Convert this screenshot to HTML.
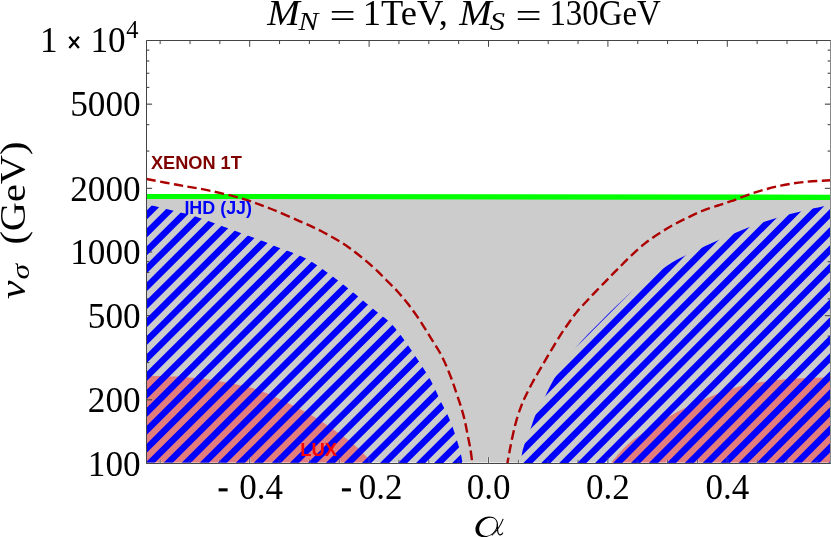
<!DOCTYPE html>
<html><head><meta charset="utf-8"><title>plot</title>
<style>
html,body{margin:0;padding:0;background:#fff;}
body{width:831px;height:537px;overflow:hidden;font-family:"Liberation Serif",serif;}
svg{display:block;will-change:transform;}
</style></head><body>
<svg width="831" height="537" viewBox="0 0 831 537">
<rect x="0" y="0" width="831" height="537" fill="#ffffff"/>
<path d="M146.5 196 L831 197 L831 462.6 L146.5 462.6 Z" fill="#cccccc"/>
<path d="M146.50 376.40 C148.08 376.32 151.25 375.87 156.00 375.90 C160.75 375.93 169.00 376.30 175.00 376.60 C181.00 376.90 186.50 377.23 192.00 377.70 C197.50 378.17 202.67 378.68 208.00 379.40 C213.33 380.12 218.67 381.03 224.00 382.00 C229.33 382.97 235.17 384.15 240.00 385.20 C244.83 386.25 249.33 387.25 253.00 388.30 C256.67 389.35 259.00 390.35 262.00 391.50 C265.00 392.65 267.03 393.43 271.00 395.20 C274.97 396.97 280.85 399.70 285.80 402.10 C290.75 404.50 295.73 406.98 300.70 409.60 C305.67 412.22 310.65 414.83 315.60 417.80 C320.55 420.77 325.45 424.07 330.40 427.40 C335.35 430.73 340.83 434.45 345.30 437.80 C349.77 441.15 353.47 444.13 357.20 447.50 C360.93 450.87 365.33 455.48 367.70 458.00 C370.07 460.52 370.78 461.83 371.40 462.60 L146.5 462.6 Z" fill="#e37c7c"/>
<path d="M611.20 462.60 C614.08 459.47 622.23 449.35 628.50 443.80 C634.77 438.25 641.57 434.12 648.80 429.30 C656.03 424.48 664.68 418.98 671.90 414.90 C679.12 410.82 684.88 408.17 692.10 404.80 C699.32 401.43 707.02 397.83 715.20 394.70 C723.38 391.57 733.02 388.17 741.20 386.00 C749.38 383.83 755.63 382.90 764.30 381.70 C772.97 380.50 782.17 379.55 793.20 378.80 C804.23 378.05 824.28 377.47 830.50 377.20 L831 377.2 L831 462.6 Z" fill="#e37c7c"/>
<g stroke="#454545" stroke-width="1" fill="none" opacity="1">
<path d="M160.15 463.5 v-3.6 M190.00 463.5 v-3.6 M219.85 463.5 v-3.6 M249.70 463.5 v-6.3 M279.55 463.5 v-3.6 M309.40 463.5 v-3.6 M339.25 463.5 v-3.6 M369.10 463.5 v-6.3 M398.95 463.5 v-3.6 M428.80 463.5 v-3.6 M458.65 463.5 v-3.6 M488.50 463.5 v-6.3 M518.35 463.5 v-3.6 M548.20 463.5 v-3.6 M578.05 463.5 v-3.6 M607.90 463.5 v-6.3 M637.75 463.5 v-3.6 M667.60 463.5 v-3.6 M697.45 463.5 v-3.6 M727.30 463.5 v-6.3 M757.15 463.5 v-3.6 M787.00 463.5 v-3.6 M816.85 463.5 v-3.6" stroke="#ffffff" stroke-opacity="0.35" stroke-width="2.6"/>
<path d="M160.15 463.5 v-3.6 M190.00 463.5 v-3.6 M219.85 463.5 v-3.6 M249.70 463.5 v-6.3 M279.55 463.5 v-3.6 M309.40 463.5 v-3.6 M339.25 463.5 v-3.6 M369.10 463.5 v-6.3 M398.95 463.5 v-3.6 M428.80 463.5 v-3.6 M458.65 463.5 v-3.6 M488.50 463.5 v-6.3 M518.35 463.5 v-3.6 M548.20 463.5 v-3.6 M578.05 463.5 v-3.6 M607.90 463.5 v-6.3 M637.75 463.5 v-3.6 M667.60 463.5 v-3.6 M697.45 463.5 v-3.6 M727.30 463.5 v-6.3 M757.15 463.5 v-3.6 M787.00 463.5 v-3.6 M816.85 463.5 v-3.6" stroke="#5a5a5a"/>
<path d="M146.5 463.50 h5.6 M146.5 399.83 h5.6 M146.5 362.59 h2.8 M146.5 336.16 h2.8 M146.5 315.67 h5.6 M146.5 298.92 h2.8 M146.5 284.76 h2.8 M146.5 272.50 h2.8 M146.5 261.68 h2.8 M146.5 252.00 h5.6 M146.5 188.33 h5.6 M146.5 151.09 h2.8 M146.5 124.66 h2.8 M146.5 104.17 h5.6 M146.5 87.42 h2.8 M146.5 73.26 h2.8 M146.5 61.00 h2.8 M146.5 50.18 h2.8 M146.5 40.50 h5.6"/>
<path d="M830.5 463.50 h-5.6 M830.5 399.83 h-5.6 M830.5 362.59 h-2.8 M830.5 336.16 h-2.8 M830.5 315.67 h-5.6 M830.5 298.92 h-2.8 M830.5 284.76 h-2.8 M830.5 272.50 h-2.8 M830.5 261.68 h-2.8 M830.5 252.00 h-5.6 M830.5 188.33 h-5.6 M830.5 151.09 h-2.8 M830.5 124.66 h-2.8 M830.5 104.17 h-5.6 M830.5 87.42 h-2.8 M830.5 73.26 h-2.8 M830.5 61.00 h-2.8 M830.5 50.18 h-2.8 M830.5 40.50 h-5.6"/>
</g>
<defs><clipPath id="cbL"><path d="M146.50 205.40 C147.55 205.47 148.97 205.08 152.80 205.80 C156.63 206.52 164.12 208.40 169.50 209.70 C174.88 211.00 180.53 212.40 185.10 213.60 C189.67 214.80 192.33 215.43 196.90 216.90 C201.47 218.37 207.28 220.50 212.50 222.40 C217.72 224.30 221.67 225.85 228.20 228.30 C234.73 230.75 245.50 234.82 251.70 237.10 C257.90 239.38 260.83 240.22 265.40 242.00 C269.97 243.78 274.53 246.02 279.10 247.80 C283.67 249.58 288.32 250.90 292.80 252.70 C297.28 254.50 300.77 255.68 306.00 258.60 C311.23 261.52 317.13 265.23 324.20 270.20 C331.27 275.17 339.93 281.73 348.40 288.40 C356.87 295.07 368.70 305.08 375.00 310.20 C381.30 315.32 382.85 316.13 386.20 319.10 C389.55 322.07 392.32 324.83 395.10 328.00 C397.88 331.17 400.28 334.55 402.90 338.10 C405.52 341.65 408.37 345.77 410.80 349.30 C413.23 352.83 415.27 355.95 417.50 359.30 C419.73 362.65 421.97 365.85 424.20 369.40 C426.43 372.95 429.02 377.17 430.90 380.60 C432.78 384.03 433.73 386.32 435.50 390.00 C437.27 393.68 439.50 398.60 441.50 402.70 C443.50 406.80 445.63 410.52 447.50 414.60 C449.37 418.68 451.10 422.85 452.70 427.20 C454.30 431.55 455.73 436.22 457.10 440.70 C458.47 445.18 460.02 450.38 460.90 454.10 C461.78 457.82 462.15 461.52 462.40 463.00 L146.5 462.6 Z"/></clipPath><clipPath id="cbR"><path d="M522.60 463.00 C522.47 461.63 521.43 458.03 521.80 454.80 C522.17 451.57 523.30 448.07 524.80 443.60 C526.30 439.13 528.93 432.97 530.80 428.00 C532.67 423.03 533.52 419.27 536.00 413.80 C538.48 408.33 542.37 401.53 545.70 395.20 C549.03 388.87 550.93 383.75 556.00 375.80 C561.07 367.85 568.40 356.80 576.10 347.50 C583.80 338.20 592.68 329.50 602.20 320.00 C611.72 310.50 622.95 299.17 633.20 290.50 C643.45 281.83 655.60 273.55 663.70 268.00 C671.80 262.45 672.72 261.83 681.80 257.20 C690.88 252.57 706.90 245.25 718.20 240.20 C729.50 235.15 739.92 230.62 749.60 226.90 C759.28 223.18 767.62 220.52 776.30 217.90 C784.98 215.28 793.43 213.22 801.70 211.20 C809.97 209.18 821.10 206.83 825.90 205.80 C830.70 204.77 829.73 205.13 830.50 205.00 L831 205 L831 462.6 Z"/></clipPath></defs>
<path d="M-127.87 470 L153.81 190 M-109.82 470 L171.86 190 M-91.77 470 L189.91 190 M-73.72 470 L207.96 190 M-55.67 470 L226.01 190 M-37.62 470 L244.06 190 M-19.57 470 L262.11 190 M-1.52 470 L280.16 190 M16.53 470 L298.21 190 M34.58 470 L316.26 190 M52.63 470 L334.31 190 M70.68 470 L352.36 190 M88.73 470 L370.41 190 M106.78 470 L388.46 190 M124.83 470 L406.51 190 M142.88 470 L424.56 190 M160.93 470 L442.61 190 M178.98 470 L460.66 190 M197.03 470 L478.71 190 M215.08 470 L496.76 190 M233.13 470 L514.81 190 M251.18 470 L532.86 190 M269.23 470 L550.91 190 M287.28 470 L568.96 190 M305.33 470 L587.01 190 M323.38 470 L605.06 190 M341.43 470 L623.11 190 M359.48 470 L641.16 190 M377.53 470 L659.21 190 M395.58 470 L677.26 190 M413.63 470 L695.31 190 M431.68 470 L713.36 190 M449.73 470 L731.41 190 M467.78 470 L749.46 190" stroke="#0000ff" stroke-width="6.486" fill="none" clip-path="url(#cbL)"/>
<path d="M216.17 470 L495.05 190 M234.10 470 L512.98 190 M252.03 470 L530.91 190 M269.96 470 L548.84 190 M287.89 470 L566.77 190 M305.82 470 L584.70 190 M323.75 470 L602.63 190 M341.68 470 L620.56 190 M359.61 470 L638.49 190 M377.54 470 L656.42 190 M395.47 470 L674.35 190 M413.40 470 L692.28 190 M431.33 470 L710.21 190 M449.26 470 L728.14 190 M467.19 470 L746.07 190 M485.12 470 L764.00 190 M503.05 470 L781.93 190 M520.98 470 L799.86 190 M538.91 470 L817.79 190 M556.84 470 L835.72 190 M574.77 470 L853.65 190 M592.70 470 L871.58 190 M610.63 470 L889.51 190 M628.56 470 L907.44 190 M646.49 470 L925.37 190 M664.42 470 L943.30 190 M682.35 470 L961.23 190 M700.28 470 L979.16 190 M718.21 470 L997.09 190 M736.14 470 L1015.02 190 M754.07 470 L1032.95 190 M772.00 470 L1050.88 190 M789.93 470 L1068.81 190 M807.86 470 L1086.74 190 M825.79 470 L1104.67 190" stroke="#0000ff" stroke-width="6.518" fill="none" clip-path="url(#cbR)"/>
<path d="M146.5 193.9 L831 194.7 L831 200.0 L146.5 198.9 Z" fill="#00ff00"/>
<defs><clipPath id="cf"><rect x="146.5" y="40.5" width="684.5" height="423.5"/></clipPath></defs>
<g clip-path="url(#cf)" fill="none" stroke="#ad0000" stroke-width="2.4" stroke-dasharray="9.5 4.4">
<path d="M146.50 179.00 C151.62 179.97 166.88 182.90 177.20 184.80 C187.52 186.70 197.58 188.10 208.40 190.40 C219.22 192.70 231.83 195.58 242.10 198.60 C252.37 201.62 260.35 204.72 270.00 208.50 C279.65 212.28 290.97 217.27 300.00 221.30 C309.03 225.33 316.13 228.38 324.20 232.70 C332.27 237.02 340.33 241.55 348.40 247.20 C356.47 252.85 366.30 261.13 372.60 266.60 C378.90 272.07 382.08 275.90 386.20 280.00 C390.32 284.10 393.58 287.10 397.30 291.20 C401.02 295.30 404.77 299.77 408.50 304.60 C412.23 309.43 415.97 314.62 419.70 320.20 C423.43 325.78 427.18 332.05 430.90 338.10 C434.62 344.15 438.65 349.93 442.00 356.50 C445.35 363.07 448.60 371.42 451.00 377.50 C453.40 383.58 454.75 388.18 456.40 393.00 C458.05 397.82 459.53 401.93 460.90 406.40 C462.27 410.87 463.48 415.08 464.60 419.80 C465.72 424.52 466.62 429.73 467.60 434.70 C468.58 439.67 469.72 444.88 470.50 449.60 C471.28 454.32 471.98 460.60 472.30 463.00 C472.62 465.40 472.38 463.83 472.40 464.00"/>
<path d="M507.40 464.00 C507.45 463.58 507.28 463.90 507.70 461.50 C508.12 459.10 509.03 454.07 509.90 449.60 C510.77 445.13 511.78 439.67 512.90 434.70 C514.02 429.73 515.23 424.52 516.60 419.80 C517.97 415.08 519.60 410.37 521.10 406.40 C522.60 402.43 523.75 399.90 525.60 396.00 C527.45 392.10 529.85 387.35 532.20 383.00 C534.55 378.65 537.22 374.20 539.70 369.90 C542.18 365.60 544.62 361.42 547.10 357.20 C549.58 352.98 552.12 348.68 554.60 344.60 C557.08 340.52 559.53 336.47 562.00 332.70 C564.47 328.93 566.87 325.53 569.40 322.00 C571.93 318.47 574.33 314.97 577.20 311.50 C580.07 308.03 583.48 304.57 586.60 301.20 C589.72 297.83 592.80 294.53 595.90 291.30 C599.00 288.07 602.60 284.47 605.20 281.80 C607.80 279.13 609.38 277.45 611.50 275.30 C613.62 273.15 614.85 271.95 617.90 268.90 C620.95 265.85 625.33 261.22 629.80 257.00 C634.27 252.78 639.73 247.57 644.70 243.60 C649.67 239.63 654.65 236.42 659.60 233.20 C664.55 229.98 669.45 227.03 674.40 224.30 C679.35 221.57 684.33 219.17 689.30 216.80 C694.27 214.43 699.08 212.08 704.20 210.10 C709.32 208.12 715.53 206.38 720.00 204.90 C724.47 203.42 725.00 203.32 731.00 201.20 C737.00 199.08 747.68 194.80 756.00 192.20 C764.32 189.60 772.58 187.33 780.90 185.60 C789.22 183.87 797.55 182.68 805.90 181.80 C814.25 180.92 826.82 180.55 831.00 180.30" stroke-dashoffset="3"/>
</g>
<g stroke="#454545" stroke-width="1" fill="none">
<path d="M146.5 463.5 L146.5 40.5 L831 40.5 M831 463.5 L146.5 463.5"/>
<path d="M830.5 40.5 L830.5 463.5" stroke="#8a8a8a"/>
<path d="M160.15 40.5 v3.6 M190.00 40.5 v3.6 M219.85 40.5 v3.6 M249.70 40.5 v6.3 M279.55 40.5 v3.6 M309.40 40.5 v3.6 M339.25 40.5 v3.6 M369.10 40.5 v6.3 M398.95 40.5 v3.6 M428.80 40.5 v3.6 M458.65 40.5 v3.6 M488.50 40.5 v6.3 M518.35 40.5 v3.6 M548.20 40.5 v3.6 M578.05 40.5 v3.6 M607.90 40.5 v6.3 M637.75 40.5 v3.6 M667.60 40.5 v3.6 M697.45 40.5 v3.6 M727.30 40.5 v6.3 M757.15 40.5 v3.6 M787.00 40.5 v3.6 M816.85 40.5 v3.6"/>
</g>
<g stroke="#454545" stroke-width="1" fill="none" opacity="0.3">
<path d="M160.15 463.5 v-3.6 M190.00 463.5 v-3.6 M219.85 463.5 v-3.6 M249.70 463.5 v-6.3 M279.55 463.5 v-3.6 M309.40 463.5 v-3.6 M339.25 463.5 v-3.6 M369.10 463.5 v-6.3 M398.95 463.5 v-3.6 M428.80 463.5 v-3.6 M458.65 463.5 v-3.6 M488.50 463.5 v-6.3 M518.35 463.5 v-3.6 M548.20 463.5 v-3.6 M578.05 463.5 v-3.6 M607.90 463.5 v-6.3 M637.75 463.5 v-3.6 M667.60 463.5 v-3.6 M697.45 463.5 v-3.6 M727.30 463.5 v-6.3 M757.15 463.5 v-3.6 M787.00 463.5 v-3.6 M816.85 463.5 v-3.6" stroke="#ffffff" stroke-opacity="0.35" stroke-width="2.6"/>
<path d="M160.15 463.5 v-3.6 M190.00 463.5 v-3.6 M219.85 463.5 v-3.6 M249.70 463.5 v-6.3 M279.55 463.5 v-3.6 M309.40 463.5 v-3.6 M339.25 463.5 v-3.6 M369.10 463.5 v-6.3 M398.95 463.5 v-3.6 M428.80 463.5 v-3.6 M458.65 463.5 v-3.6 M488.50 463.5 v-6.3 M518.35 463.5 v-3.6 M548.20 463.5 v-3.6 M578.05 463.5 v-3.6 M607.90 463.5 v-6.3 M637.75 463.5 v-3.6 M667.60 463.5 v-3.6 M697.45 463.5 v-3.6 M727.30 463.5 v-6.3 M757.15 463.5 v-3.6 M787.00 463.5 v-3.6 M816.85 463.5 v-3.6" stroke="#5a5a5a"/>
<path d="M146.5 463.50 h5.6 M146.5 399.83 h5.6 M146.5 362.59 h2.8 M146.5 336.16 h2.8 M146.5 315.67 h5.6 M146.5 298.92 h2.8 M146.5 284.76 h2.8 M146.5 272.50 h2.8 M146.5 261.68 h2.8 M146.5 252.00 h5.6 M146.5 188.33 h5.6 M146.5 151.09 h2.8 M146.5 124.66 h2.8 M146.5 104.17 h5.6 M146.5 87.42 h2.8 M146.5 73.26 h2.8 M146.5 61.00 h2.8 M146.5 50.18 h2.8 M146.5 40.50 h5.6"/>
<path d="M830.5 463.50 h-5.6 M830.5 399.83 h-5.6 M830.5 362.59 h-2.8 M830.5 336.16 h-2.8 M830.5 315.67 h-5.6 M830.5 298.92 h-2.8 M830.5 284.76 h-2.8 M830.5 272.50 h-2.8 M830.5 261.68 h-2.8 M830.5 252.00 h-5.6 M830.5 188.33 h-5.6 M830.5 151.09 h-2.8 M830.5 124.66 h-2.8 M830.5 104.17 h-5.6 M830.5 87.42 h-2.8 M830.5 73.26 h-2.8 M830.5 61.00 h-2.8 M830.5 50.18 h-2.8 M830.5 40.50 h-5.6"/>
</g>
<text x="140.6" y="116.4" font-family="Liberation Serif, serif" font-size="35.2" text-anchor="end" fill="#000">5000</text>
<text x="140.6" y="200.5" font-family="Liberation Serif, serif" font-size="35.2" text-anchor="end" fill="#000">2000</text>
<text x="140.6" y="264.2" font-family="Liberation Serif, serif" font-size="35.2" text-anchor="end" fill="#000">1000</text>
<text x="140.6" y="327.9" font-family="Liberation Serif, serif" font-size="35.2" text-anchor="end" fill="#000">500</text>
<text x="140.6" y="412.0" font-family="Liberation Serif, serif" font-size="35.2" text-anchor="end" fill="#000">200</text>
<text x="140.6" y="475.7" font-family="Liberation Serif, serif" font-size="35.2" text-anchor="end" fill="#000">100</text>
<text x="40.0" y="52" font-family="Liberation Serif, serif" font-size="35.2" fill="#000">1</text>
<path d="M69.3 36.8 L78.9 48.0 M78.9 36.8 L69.3 48.0" stroke="#000" stroke-width="2.3" fill="none"/>
<text x="90.4" y="52" font-family="Liberation Serif, serif" font-size="35.2" fill="#000">10</text>
<text x="126.2" y="38.2" font-family="Liberation Serif, serif" font-size="24.4" fill="#000">4</text>
<text x="261.1" y="498.6" font-family="Liberation Serif, serif" font-size="35" text-anchor="middle" fill="#000">0.4</text>
<rect x="218.6" y="488.3" width="9.0" height="3.1" fill="#000"/>
<text x="380.5" y="498.6" font-family="Liberation Serif, serif" font-size="35" text-anchor="middle" fill="#000">0.2</text>
<rect x="341.9" y="488.3" width="9.0" height="3.1" fill="#000"/>
<text x="488.5" y="498.6" font-family="Liberation Serif, serif" font-size="35" text-anchor="middle" fill="#000">0.0</text>
<text x="607.9" y="498.6" font-family="Liberation Serif, serif" font-size="35" text-anchor="middle" fill="#000">0.2</text>
<text x="727.3" y="498.6" font-family="Liberation Serif, serif" font-size="35" text-anchor="middle" fill="#000">0.4</text>
<text x="150.9" y="168.7" font-family="Liberation Sans, sans-serif" font-size="18.2" font-weight="bold" fill="#800000">XENON 1T</text>
<text x="184.4" y="214.3" font-family="Liberation Sans, sans-serif" font-size="17.9" font-weight="bold" fill="#0000ff">IHD (JJ)</text>
<text x="300.2" y="455.8" font-family="Liberation Sans, sans-serif" font-size="18.4" font-weight="bold" fill="#ff0000">LUX</text>
<g font-family="Liberation Serif, serif" fill="#000" font-size="35.2">
<text x="267.2" y="24.8" font-style="italic" textLength="32.5" lengthAdjust="spacingAndGlyphs">M</text>
<text x="298.4" y="29.5" font-style="italic" font-size="25.4" textLength="19.8" lengthAdjust="spacingAndGlyphs">N</text>
<text x="329.6" y="28.0" textLength="26.2" lengthAdjust="spacingAndGlyphs">=</text>
<text x="362.8" y="24.8" textLength="85.0" lengthAdjust="spacingAndGlyphs">1TeV,</text>
<text x="459.2" y="24.8" font-style="italic" textLength="32.5" lengthAdjust="spacingAndGlyphs">M</text>
<text x="489.8" y="29.8" font-style="italic" font-size="26" textLength="15.2" lengthAdjust="spacingAndGlyphs">S</text>
<text x="515.4" y="28.0" textLength="26.2" lengthAdjust="spacingAndGlyphs">=</text>
<text x="549.4" y="24.8" textLength="111.5" lengthAdjust="spacingAndGlyphs">130GeV</text>
</g>
<g transform="translate(24.6,298.4) rotate(-90)" font-family="Liberation Serif, serif" fill="#000" font-size="34.8">
<text x="-0.6" y="0" font-style="italic" textLength="18.6" lengthAdjust="spacingAndGlyphs">v</text>
<text x="19.0" y="4.6" font-style="italic" font-size="24.5" textLength="15.5" lengthAdjust="spacingAndGlyphs">σ</text>
<text x="53.8" y="0" textLength="103" lengthAdjust="spacingAndGlyphs">(GeV)</text>
</g>
<g transform="translate(460,500) scale(0.07220)" fill="#000" stroke="none">
<path transform="translate(370,372) skewX(-14) translate(-370,-372)" fill-rule="evenodd" d="M370 228 C286 228 218 292 218 372 C218 452 286 516 370 516 C454 516 522 452 522 372 C522 292 454 228 370 228 Z M392 246 C457 246 506 302 506 372 C506 442 457 498 392 498 C327 498 270 442 270 372 C270 302 327 246 392 246 Z"/>
<path d="M598 262 C570 335 520 425 440 490" fill="none" stroke="#000" stroke-width="15"/>
<path d="M517 330 C522 400 512 468 545 480 C570 487 586 472 593 452" fill="none" stroke="#000" stroke-width="17"/>
</g>
</svg>
</body></html>
